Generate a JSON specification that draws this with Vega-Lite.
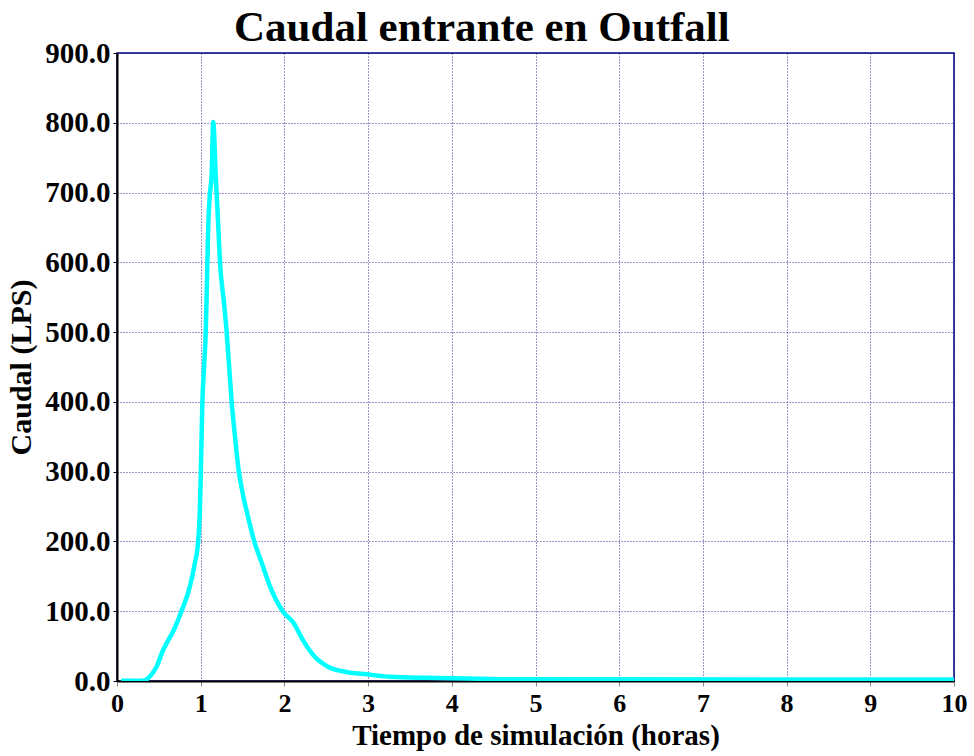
{
  "$schema": "https://vega.github.io/schema/vega-lite/v6.json",
  "width": 837,
  "height": 628,
  "autosize": "none",
  "padding": {"left": 117, "top": 53, "right": 20, "bottom": 75},
  "background": "white",
  "title": {
    "text": "Caudal entrante en Outfall",
    "font": "Liberation Serif",
    "fontSize": 43,
    "fontWeight": "bold",
    "color": "black",
    "anchor": "middle",
    "frame": "bounds",
    "baseline": "alphabetic",
    "offset": 4,
    "dy": 49,
    "dx": -5
  },
  "config": {
    "view": {"stroke": "#000080", "strokeWidth": 1.5},
    "axis": {
      "labelFont": "Liberation Serif",
      "labelFontWeight": "bold",
      "labelColor": "black",
      "titleFont": "Liberation Serif",
      "titleFontWeight": "bold",
      "titleColor": "black",
      "domainColor": "black",
      "domainWidth": 2,
      "gridColor": "#000080",
      "gridDash": [1, 2],
      "gridWidth": 1,
      "gridOpacity": 0.8
    }
  },
  "data": {
    "values": [
      {"t": 0.05, "q": 0.5},
      {"t": 0.29, "q": 0.5},
      {"t": 0.35, "q": 2},
      {"t": 0.39, "q": 6},
      {"t": 0.47, "q": 20},
      {"t": 0.55, "q": 44},
      {"t": 0.61, "q": 58},
      {"t": 0.67, "q": 71},
      {"t": 0.77, "q": 100},
      {"t": 0.87, "q": 135},
      {"t": 0.93, "q": 169},
      {"t": 0.97, "q": 200},
      {"t": 0.99, "q": 245},
      {"t": 1.0, "q": 290},
      {"t": 1.02, "q": 400},
      {"t": 1.04, "q": 450},
      {"t": 1.06, "q": 500},
      {"t": 1.07, "q": 546},
      {"t": 1.08, "q": 601},
      {"t": 1.09, "q": 651},
      {"t": 1.11, "q": 699},
      {"t": 1.13, "q": 723},
      {"t": 1.15, "q": 801},
      {"t": 1.18, "q": 723},
      {"t": 1.19, "q": 699},
      {"t": 1.21, "q": 651},
      {"t": 1.23, "q": 601},
      {"t": 1.28, "q": 540},
      {"t": 1.31, "q": 500},
      {"t": 1.34, "q": 450},
      {"t": 1.37, "q": 400},
      {"t": 1.41, "q": 350},
      {"t": 1.45, "q": 305},
      {"t": 1.5, "q": 270},
      {"t": 1.56, "q": 238},
      {"t": 1.64, "q": 200},
      {"t": 1.73, "q": 169},
      {"t": 1.83, "q": 135},
      {"t": 1.98, "q": 100},
      {"t": 2.11, "q": 83},
      {"t": 2.22, "q": 59},
      {"t": 2.36, "q": 35},
      {"t": 2.52, "q": 20.5},
      {"t": 2.74, "q": 13},
      {"t": 2.98, "q": 9.6},
      {"t": 3.26, "q": 6},
      {"t": 3.7, "q": 4.5},
      {"t": 4.2, "q": 3.5},
      {"t": 4.65, "q": 2.5},
      {"t": 10, "q": 2}
    ]
  },
  "mark": {"type": "line", "color": "#00FFFF", "strokeWidth": 4.5, "clip": true, "interpolate": "monotone"},
  "encoding": {
    "x": {
      "field": "t",
      "type": "quantitative",
      "scale": {"domain": [0, 10], "nice": false},
      "axis": {
        "title": "Tiempo de simulación (horas)",
        "values": [0, 1, 2, 3, 4, 5, 6, 7, 8, 9, 10],
        "labelFontSize": 26,
        "titleFontSize": 29,
        "tickSize": 5,
        "tickColor": "#888888",
        "labelPadding": 4,
        "titlePadding": 5,
        "labelFlush": false
      }
    },
    "y": {
      "field": "q",
      "type": "quantitative",
      "scale": {"domain": [0, 900], "nice": false},
      "axis": {
        "title": "Caudal (LPS)",
        "values": [0, 100, 200, 300, 400, 500, 600, 700, 800, 900],
        "format": ".1f",
        "labelFontSize": 29,
        "titleFontSize": 30,
        "tickSize": 4,
        "tickColor": "black",
        "labelPadding": 3,
        "titlePadding": 8,
        "labelFlush": false
      }
    }
  }
}
